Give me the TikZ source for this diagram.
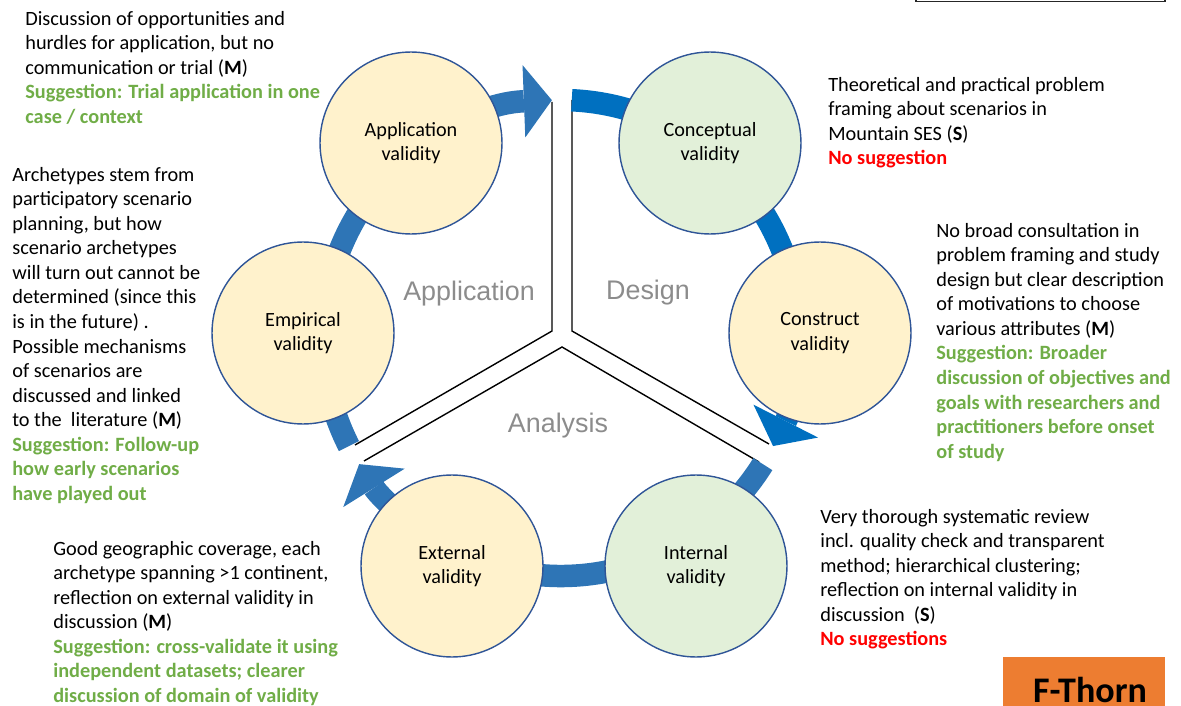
\documentclass[tikz,border=0pt]{standalone}
\usepackage{fontspec}
\setmainfont{Carlito}
\newfontfamily\phasefont{Liberation Sans}
\usetikzlibrary{arrows.meta,positioning}

\definecolor{ringblue}{HTML}{2E75B6}
\definecolor{designblue}{HTML}{0070C0}
\definecolor{edgeblue}{HTML}{2F5597}
\definecolor{appfill}{HTML}{FFF2CC}
\definecolor{anafill}{HTML}{E2F0D9}
\definecolor{sugggreen}{HTML}{70AD47}
\definecolor{fthorn}{HTML}{ED7D31}

\newcommand{\sugg}[1]{\textcolor{sugggreen}{\bfseries #1}}
\newcommand{\nosugg}[1]{\textcolor{red}{\bfseries #1}}

\tikzset{
  validity/.style={circle, draw=edgeblue, line width=0.8pt, minimum size=3.64cm, align=center, font=\fontsize{11.5}{13.9}\selectfont},
  yellowc/.style={validity, fill=appfill},
  greenc/.style={validity, fill=anafill},
  ring/.style={line width=0.45cm, ringblue, -{Triangle[length=0.56cm,width=1.45cm,line width=0pt]}},
  phase/.style={font=\phasefont\fontsize{15.3}{18}\selectfont, text=black!45},
  remark/.style={anchor=north west, align=left, inner sep=0pt, font=\fontsize{11.55}{13.95}\selectfont},
  divider/.style={line width=0.8pt},
}

\begin{document}
\begin{tikzpicture}[x=0.02cm, y=-0.02cm]
\useasboundingbox (0,0) rectangle (1181,706);

% dividing Y
\coordinate (hub) at (561,338);
\draw[divider] (552,102) -- (552,331) -- (355,445);
\draw[divider] (572,100) -- (572,331) -- (769,444);
\draw[divider] (364,461) -- (562,347) -- (759,462);

% the cycle
\draw[ring] ([shift={(153:238)}]hub) arc[start angle=153, end angle=267.8, radius=238];
\draw[ring, designblue] ([shift={(272.6:238)}]hub) arc[start angle=272.6, end angle=387, radius=238];
\draw[ring] ([shift={(32:238)}]hub) arc[start angle=32, end angle=148, radius=238];

% validity circles
\node[yellowc] (application) at (411,143) {Application\\validity};
\node[greenc]  (conceptual)  at (710,143) {Conceptual\\validity};
\node[yellowc] (construct)   at (820,333) {Construct\\validity};
\node[greenc]  (internal)    at (696,566) {Internal\\validity};
\node[yellowc] (external)    at (452,566) {External\\validity};
\node[yellowc] (empirical)   at (303,333) {Empirical\\validity};

\node[phase] (applab) at (469,294) {Application};
\node[phase] (deslab) at (648,293) {Design};
\node[phase] (analab) at (558,426) {Analysis};

% remarks
\node[remark] (apptext) at (25,11) {Discussion of opportunities and\\hurdles for application, but no\\communication or trial (\textbf{M})\\\sugg{Suggestion: Trial application in one}\\\sugg{case / context}};
\node[remark] (emptext) at (12,167) {Archetypes stem from\\participatory scenario\\planning, but how\\scenario archetypes\\will turn out cannot be\\determined (since this\\is in the future) .\\Possible mechanisms\\of scenarios are\\discussed and linked\\to the\ \ literature (\textbf{M})\\\sugg{Suggestion: Follow-up}\\\sugg{how early scenarios}\\\sugg{have played out}};
\node[remark] (exttext) at (53,541) {Good geographic coverage, each\\archetype spanning >1 continent,\\reflection on external validity in\\discussion (\textbf{M})\\\sugg{Suggestion: cross-validate it using}\\\sugg{independent datasets; clearer}\\\sugg{discussion of domain of validity}};
\node[remark] (context) at (828,77) {Theoretical and practical problem\\framing about scenarios in\\Mountain SES (\textbf{S})\\\nosugg{No suggestion}};
\node[remark] (constext) at (936,223) {No broad consultation in\\problem framing and study\\design but clear description\\of motivations to choose\\various attributes (\textbf{M})\\\sugg{Suggestion: Broader}\\\sugg{discussion of objectives and}\\\sugg{goals with researchers and}\\\sugg{practitioners before onset}\\\sugg{of study}};
\node[remark] (inttext) at (820,509) {Very thorough systematic review\\incl. quality check and transparent\\method; hierarchical clustering;\\reflection on internal validity in\\discussion\ \ (\textbf{S})\\\nosugg{No suggestions}};

% corner boxes
\draw[line width=1pt, black!85] (916,-20) rectangle (1165,1.5);
\fill[fthorn] (1003,657) rectangle (1165,720);
\node[anchor=base, inner sep=0pt, font=\bfseries\fontsize{20.5}{24}\selectfont] (fthornlab) at (1090,702) {F-Thorn};
\end{tikzpicture}
\end{document}
